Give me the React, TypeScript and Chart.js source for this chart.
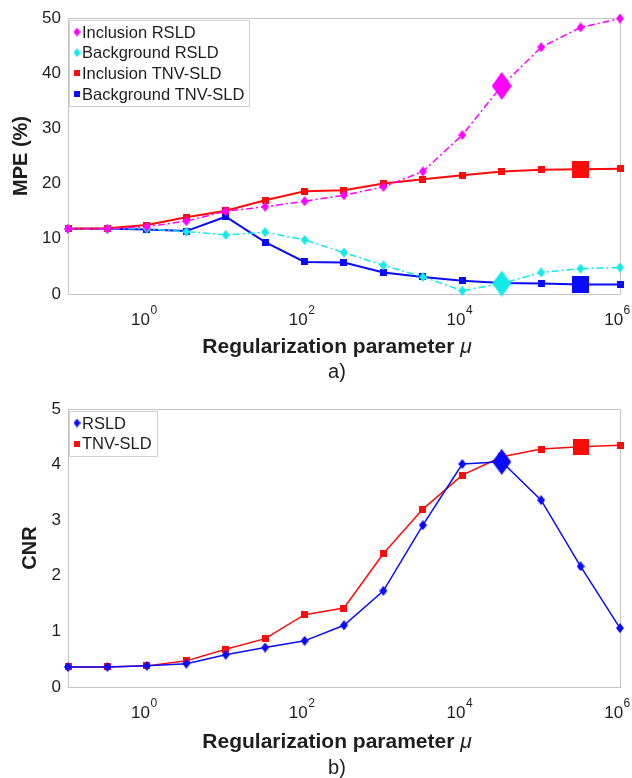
import React, { useEffect, useRef } from 'react';
import { Chart, registerables } from 'chart.js';

Chart.register(...registerables);

// ---------- data ----------
const muValues = [0.1, 0.316, 1, 3.16, 10, 31.6, 100, 316, 1000, 3162, 10000, 31623, 100000, 316228, 1000000];
const xTickValues = [1, 100, 10000, 1000000];

const mpeInclusionRSLD = [11.8, 11.8, 12.2, 13.2, 15.0, 15.8, 16.8, 17.9, 19.4, 22.2, 28.8, 37.7, 44.7, 48.3, 49.9];
const mpeBackgroundRSLD = [11.8, 11.8, 11.8, 11.3, 10.7, 11.2, 9.8, 7.5, 5.2, 3.1, 0.6, 1.9, 3.9, 4.6, 4.8];
const mpeInclusionTNV = [11.8, 11.9, 12.5, 13.9, 15.1, 17.0, 18.6, 18.8, 20.0, 20.8, 21.5, 22.2, 22.5, 22.6, 22.7];
const mpeBackgroundTNV = [11.8, 11.8, 11.7, 11.4, 14.0, 9.4, 5.8, 5.7, 3.9, 3.1, 2.4, 2.0, 1.9, 1.7, 1.7];

const cnrRSLD = [0.36, 0.36, 0.38, 0.42, 0.58, 0.71, 0.83, 1.11, 1.73, 2.91, 4.01, 4.05, 3.36, 2.17, 1.06];
const cnrTNV = [0.36, 0.36, 0.38, 0.47, 0.68, 0.87, 1.3, 1.42, 2.4, 3.2, 3.81, 4.14, 4.28, 4.32, 4.35];

const bestIndexRSLD = 11;
const bestIndexTNV = 13;

const mpeTicks = [0, 10, 20, 30, 40, 50];
const cnrTicks = [0, 1, 2, 3, 4, 5];

const FONT = '"Liberation Sans", Arial, sans-serif';
const TEXT = '#1e1e1e';
const MAGENTA = '#ff00ff';
const CYAN = '#12eaea';
const RED = '#ff0a0a';
const BLUE = '#0a0aff';

// ---------- marker images ----------
function diamond(color: string, w: number, h: number) {
  const c = document.createElement('canvas');
  c.width = w; c.height = h;
  const g = c.getContext('2d')!;
  g.fillStyle = color;
  g.beginPath();
  g.moveTo(w / 2, 0); g.lineTo(w, h / 2); g.lineTo(w / 2, h); g.lineTo(0, h / 2);
  g.closePath(); g.fill();
  return c;
}
function square(color: string, s: number) {
  const c = document.createElement('canvas');
  c.width = s; c.height = s;
  const g = c.getContext('2d')!;
  g.fillStyle = color;
  g.fillRect(0, 0, s, s);
  return c;
}

function toPoints(arr: number[]) {
  return muValues.map((x, i) => ({ x, y: arr[i] }));
}

type LegendItem = { label: string; img: HTMLCanvasElement };

function decoPlugin(o: {
  yTitle: string; yTitleX: number; sub: string; legend: LegendItem[]; titleDy: number; subDy: number;
}) {
  return {
    id: 'deco',
    beforeDatasetsDraw(chart: any) {
      const { ctx, chartArea: a } = chart;
      ctx.save();
      ctx.strokeStyle = '#c4c4c4';
      ctx.lineWidth = 1;
      ctx.strokeRect(Math.round(a.left) + 0.5, Math.round(a.top) + 0.5, Math.round(a.right - a.left), Math.round(a.bottom - a.top));
      ctx.restore();
    },
    afterDraw(chart: any) {
      const { ctx, chartArea: a } = chart;
      ctx.save();
      // x tick labels with superscript exponents
      const xs = chart.scales.x;
      ctx.fillStyle = TEXT;
      ctx.textBaseline = 'middle';
      ctx.textAlign = 'left';
      xTickValues.forEach((v) => {
        const px = xs.getPixelForValue(v);
        const e = String(Math.round(Math.log10(v)));
        ctx.font = `17px ${FONT}`;
        const w10 = ctx.measureText('10').width;
        ctx.font = `12px ${FONT}`;
        const we = ctx.measureText(e).width;
        const sx = px - (w10 + we) / 2 - 3;
        ctx.font = `17px ${FONT}`;
        ctx.fillText('10', sx, a.bottom + 26);
        ctx.font = `12px ${FONT}`;
        ctx.fillText(e, sx + w10 + 0.5, a.bottom + 17);
      });
      // legend
      ctx.font = `16.5px ${FONT}`;
      let maxW = 0;
      o.legend.forEach((it) => { maxW = Math.max(maxW, ctx.measureText(it.label).width); });
      const bx = a.left + 1, by = a.top + 2;
      const rowH = 20.7;
      const bw = 14 + maxW + 4;
      const bh = 12 + (o.legend.length - 1) * rowH + 12;
      ctx.fillStyle = '#ffffff';
      ctx.fillRect(bx, by, bw, bh);
      ctx.strokeStyle = '#d0d0d0';
      ctx.lineWidth = 1;
      ctx.strokeRect(Math.round(bx) + 0.5, Math.round(by) + 0.5, Math.round(bw), Math.round(bh));
      o.legend.forEach((it, i) => {
        const cy = by + 12 + i * rowH;
        ctx.drawImage(it.img, bx + 8 - it.img.width / 2, cy - it.img.height / 2);
        ctx.fillStyle = TEXT;
        ctx.textAlign = 'left';
        ctx.textBaseline = 'middle';
        ctx.fillText(it.label, bx + 13, cy + 1);
      });
      // y title
      ctx.save();
      ctx.translate(o.yTitleX, (a.top + a.bottom) / 2);
      ctx.rotate(-Math.PI / 2);
      ctx.font = `bold 20px ${FONT}`;
      ctx.fillStyle = TEXT;
      ctx.textAlign = 'center';
      ctx.textBaseline = 'middle';
      ctx.fillText(o.yTitle, 0, 0);
      ctx.restore();
      // x title
      const cx = (a.left + a.right) / 2 - 7;
      const t1 = 'Regularization parameter ';
      const t2 = 'μ';
      ctx.font = `bold 21px ${FONT}`;
      const w1 = ctx.measureText(t1).width;
      ctx.font = `italic 21px ${FONT}`;
      const w2 = ctx.measureText(t2).width;
      const sx = cx - (w1 + w2) / 2;
      const ty = a.bottom + o.titleDy;
      ctx.fillStyle = TEXT;
      ctx.textAlign = 'left';
      ctx.textBaseline = 'middle';
      ctx.font = `bold 21px ${FONT}`;
      ctx.fillText(t1, sx, ty);
      ctx.font = `italic 21px ${FONT}`;
      ctx.fillText(t2, sx + w1, ty);
      // sub label
      ctx.font = `20px ${FONT}`;
      ctx.textAlign = 'center';
      ctx.fillText(o.sub, cx, a.bottom + o.subDy);
      ctx.restore();
    },
  };
}

function buildConfig(p: {
  datasets: any[]; yMax: number; yTicks: number[]; padTop: number; xHeight: number;
  yTitle: string; yTitleX: number; sub: string; legend: LegendItem[]; titleDy: number; subDy: number;
}): any {
  return {
    type: 'line',
    data: { datasets: p.datasets },
    options: {
      animation: false,
      responsive: false,
      devicePixelRatio: 1,
      events: [],
      layout: { autoPadding: false, padding: { top: p.padTop, right: 12, left: 0, bottom: 0 } },
      plugins: { legend: { display: false }, title: { display: false }, tooltip: { enabled: false } },
      scales: {
        x: {
          type: 'logarithmic',
          min: 0.1,
          max: 1000000,
          afterBuildTicks: (s: any) => { s.ticks = xTickValues.map((v) => ({ value: v, major: true })); },
          afterFit: (s: any) => { s.height = p.xHeight; s.paddingLeft = 0; s.paddingRight = 0; },
          ticks: { display: false, autoSkip: false, maxRotation: 0 },
          grid: { display: false, drawTicks: false },
          border: { display: false },
        },
        y: {
          min: 0,
          max: p.yMax,
          afterBuildTicks: (s: any) => { s.ticks = p.yTicks.map((v) => ({ value: v })); },
          afterFit: (s: any) => { s.width = 68; s.paddingTop = 0; s.paddingBottom = 0; },
          ticks: { padding: 7, color: TEXT, font: { family: FONT, size: 17 } },
          grid: { display: false, drawTicks: false },
          border: { display: false },
        },
      },
    },
    plugins: [decoPlugin({ yTitle: p.yTitle, yTitleX: p.yTitleX, sub: p.sub, legend: p.legend, titleDy: p.titleDy, subDy: p.subDy })],
  };
}

function series(label: string, arr: number[], color: string, small: HTMLCanvasElement, big: HTMLCanvasElement, best: number, width: number, dash: number[]) {
  return {
    label,
    data: toPoints(arr),
    borderColor: color,
    backgroundColor: color,
    borderWidth: width,
    borderDash: dash,
    tension: 0,
    clip: false,
    pointRadius: 4,
    pointStyle: (ctx: any) => (ctx.dataIndex === best ? big : small),
  };
}

export default function App() {
  const topRef = useRef<HTMLCanvasElement>(null);
  const botRef = useRef<HTMLCanvasElement>(null);

  useEffect(() => {
    const dash = [7, 3, 2, 3];
    const magSmall = diamond(MAGENTA, 8, 10), magBig = diamond(MAGENTA, 20, 28);
    const cyaSmall = diamond(CYAN, 8, 10), cyaBig = diamond(CYAN, 19, 26);
    const redSmall = square(RED, 7), redBig = square(RED, 17);
    const bluSmall = square(BLUE, 7), bluBig = square(BLUE, 17);
    const bluDSmall = diamond(BLUE, 8, 10), bluDBig = diamond(BLUE, 19, 26);
    const redSmall2 = square(RED, 7), redBig2 = square(RED, 16);

    const top = new Chart(topRef.current!, buildConfig({
      datasets: [
        series('Inclusion RSLD', mpeInclusionRSLD, MAGENTA, magSmall, magBig, bestIndexRSLD, 1.5, dash),
        series('Background RSLD', mpeBackgroundRSLD, CYAN, cyaSmall, cyaBig, bestIndexRSLD, 1.5, dash),
        series('Inclusion TNV-SLD', mpeInclusionTNV, RED, redSmall, redBig, bestIndexTNV, 2, []),
        series('Background TNV-SLD', mpeBackgroundTNV, BLUE, bluSmall, bluBig, bestIndexTNV, 2, []),
      ],
      yMax: 50, yTicks: mpeTicks, padTop: 18, xHeight: 95,
      yTitle: 'MPE (%)', yTitleX: 21, sub: 'a)', titleDy: 53, subDy: 78,
      legend: [
        { label: 'Inclusion RSLD', img: diamond(MAGENTA, 7, 9) },
        { label: 'Background RSLD', img: diamond(CYAN, 7, 9) },
        { label: 'Inclusion TNV-SLD', img: square(RED, 6) },
        { label: 'Background TNV-SLD', img: square(BLUE, 6) },
      ],
    }));

    const bot = new Chart(botRef.current!, buildConfig({
      datasets: [
        series('RSLD', cnrRSLD, BLUE, bluDSmall, bluDBig, bestIndexRSLD, 1.5, []),
        series('TNV-SLD', cnrTNV, RED, redSmall2, redBig2, bestIndexTNV, 1.5, []),
      ],
      yMax: 5, yTicks: cnrTicks, padTop: 20, xHeight: 91,
      yTitle: 'CNR', yTitleX: 30, sub: 'b)', titleDy: 55, subDy: 81,
      legend: [
        { label: 'RSLD', img: diamond(BLUE, 7, 9) },
        { label: 'TNV-SLD', img: square(RED, 6) },
      ],
    }));

    return () => { top.destroy(); bot.destroy(); };
  }, []);

  return (
    <div style={{ position: 'absolute', left: 0, top: 0, width: 632, height: 778, background: '#ffffff', overflow: 'hidden' }}>
      <canvas ref={topRef} width={632} height={389} style={{ position: 'absolute', left: 0, top: 0, width: 632, height: 389 }} />
      <canvas ref={botRef} width={632} height={389} style={{ position: 'absolute', left: 0, top: 389, width: 632, height: 389 }} />
    </div>
  );
}
